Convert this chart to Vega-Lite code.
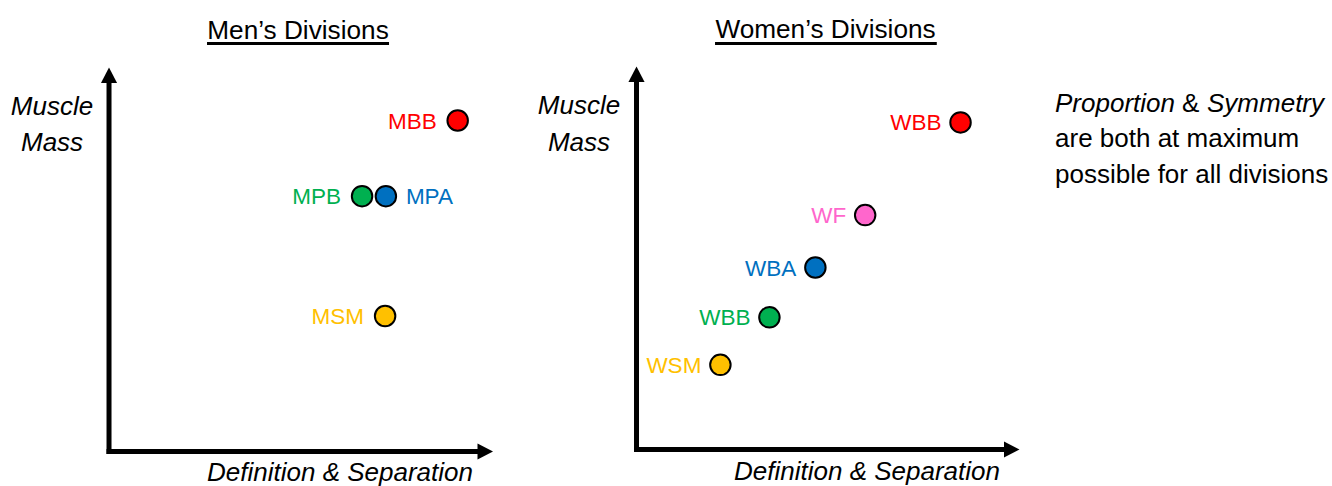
{
  "$schema": "https://vega.github.io/schema/vega-lite/v6.json",
  "width": 1332,
  "height": 486,
  "autosize": {"type": "none"},
  "padding": 0,
  "background": "white",
  "config": {"view": {"stroke": null}, "axis": {"disable": true}, "legend": {"disable": true}},
  "data": {"values": [{}]},
  "datasets": {
    "men": [
      {"division": "MBB", "class": "BB", "definition": 9.08, "mass": 8.62, "side": "left"},
      {"division": "MPB", "class": "B", "definition": 6.59, "mass": 6.65, "side": "left"},
      {"division": "MPA", "class": "A", "definition": 7.21, "mass": 6.65, "side": "right"},
      {"division": "MSM", "class": "SM", "definition": 7.19, "mass": 3.53, "side": "left"}
    ],
    "women": [
      {"division": "WBB", "class": "BB", "definition": 8.46, "mass": 8.54, "side": "left"},
      {"division": "WF", "class": "F", "definition": 5.97, "mass": 6.12, "side": "left"},
      {"division": "WBA", "class": "A", "definition": 4.67, "mass": 4.75, "side": "left"},
      {"division": "WBB", "class": "B", "definition": 3.47, "mass": 3.45, "side": "left"},
      {"division": "WSM", "class": "SM", "definition": 2.19, "mass": 2.21, "side": "left"}
    ]
  },
  "resolve": {"scale": {"x": "independent", "y": "independent"}},
  "layer": [
    {
      "layer": [
        {"mark": {"type": "rule", "strokeWidth": 5, "strokeCap": "square", "color": "black"},
         "encoding": {"x": {"datum": 0, "type": "quantitative", "scale": {"domain": [-2.839, 31.849], "nice": false, "zero": false}},
                      "y": {"datum": 0, "type": "quantitative", "scale": {"domain": [-0.898, 11.758], "nice": false, "zero": false}},
                      "y2": {"datum": 9.6}}},
        {"mark": {"type": "rule", "strokeWidth": 5, "strokeCap": "square", "color": "black"},
         "encoding": {"x": {"datum": 0, "type": "quantitative", "scale": {"domain": [-2.839, 31.849], "nice": false, "zero": false}},
                      "x2": {"datum": 9.6},
                      "y": {"datum": 0, "type": "quantitative", "scale": {"domain": [-0.898, 11.758], "nice": false, "zero": false}}}},
        {"mark": {"type": "point", "shape": "M0,0L0.52,1L-0.52,1Z", "size": 961, "filled": true, "color": "black", "opacity": 1, "strokeWidth": 0},
         "encoding": {"x": {"datum": 0, "type": "quantitative", "scale": {"domain": [-2.839, 31.849], "nice": false, "zero": false}},
                      "y": {"datum": 10, "type": "quantitative", "scale": {"domain": [-0.898, 11.758], "nice": false, "zero": false}}}},
        {"mark": {"type": "point", "shape": "M0,0L-1,-0.52L-1,0.52Z", "size": 961, "filled": true, "color": "black", "opacity": 1, "strokeWidth": 0},
         "encoding": {"x": {"datum": 10, "type": "quantitative", "scale": {"domain": [-2.839, 31.849], "nice": false, "zero": false}},
                      "y": {"datum": 0, "type": "quantitative", "scale": {"domain": [-0.898, 11.758], "nice": false, "zero": false}}}},
        {"mark": {"type": "text", "font": "Liberation Sans, Arial, sans-serif", "fontSize": 26.2, "align": "center", "baseline": "alphabetic", "color": "black"},
         "encoding": {"x": {"datum": 4.922, "type": "quantitative", "scale": {"domain": [-2.839, 31.849], "nice": false, "zero": false}},
                      "y": {"datum": 10.742, "type": "quantitative", "scale": {"domain": [-0.898, 11.758], "nice": false, "zero": false}},
                      "text": {"value": "Men’s Divisions"}}},
        {"mark": {"type": "rule", "strokeWidth": 3, "color": "black"},
         "encoding": {"x": {"datum": 2.552, "type": "quantitative", "scale": {"domain": [-2.839, 31.849], "nice": false, "zero": false}},
                      "x2": {"datum": 7.292},
                      "y": {"datum": 10.625, "type": "quantitative", "scale": {"domain": [-0.898, 11.758], "nice": false, "zero": false}}}},
        {"mark": {"type": "text", "font": "Liberation Sans, Arial, sans-serif", "fontSize": 26, "fontStyle": "italic", "align": "center", "baseline": "alphabetic", "color": "black"},
         "encoding": {"x": {"datum": -1.484, "type": "quantitative", "scale": {"domain": [-2.839, 31.849], "nice": false, "zero": false}},
                      "y": {"datum": 8.763, "type": "quantitative", "scale": {"domain": [-0.898, 11.758], "nice": false, "zero": false}},
                      "text": {"value": "Muscle"}}},
        {"mark": {"type": "text", "font": "Liberation Sans, Arial, sans-serif", "fontSize": 26, "fontStyle": "italic", "align": "center", "baseline": "alphabetic", "color": "black"},
         "encoding": {"x": {"datum": -1.484, "type": "quantitative", "scale": {"domain": [-2.839, 31.849], "nice": false, "zero": false}},
                      "y": {"datum": 7.826, "type": "quantitative", "scale": {"domain": [-0.898, 11.758], "nice": false, "zero": false}},
                      "text": {"value": "Mass"}}},
        {"mark": {"type": "text", "font": "Liberation Sans, Arial, sans-serif", "fontSize": 26, "fontStyle": "italic", "align": "right", "baseline": "alphabetic", "color": "black"},
         "encoding": {"x": {"datum": 9.479, "type": "quantitative", "scale": {"domain": [-2.839, 31.849], "nice": false, "zero": false}},
                      "y": {"datum": -0.76, "type": "quantitative", "scale": {"domain": [-0.898, 11.758], "nice": false, "zero": false}},
                      "text": {"value": "Definition & Separation"}}},
        {"data": {"name": "men"},
         "mark": {"type": "circle", "size": 420, "stroke": "black", "strokeWidth": 2, "opacity": 1},
         "encoding": {"x": {"field": "definition", "type": "quantitative", "scale": {"domain": [-2.839, 31.849], "nice": false, "zero": false}},
                      "y": {"field": "mass", "type": "quantitative", "scale": {"domain": [-0.898, 11.758], "nice": false, "zero": false}},
                      "fill": {"field": "class", "type": "nominal", "scale": {"domain": ["BB", "B", "A", "SM", "F"], "range": ["#FF0000", "#00B050", "#0070C0", "#FFC000", "#FF66CC"]}}}},
        {"data": {"name": "men"},
         "transform": [{"filter": "datum.side === 'left'"}],
         "mark": {"type": "text", "font": "Liberation Sans, Arial, sans-serif", "fontSize": 22.5, "align": "right", "baseline": "middle", "dx": -21, "dy": 1},
         "encoding": {"x": {"field": "definition", "type": "quantitative", "scale": {"domain": [-2.839, 31.849], "nice": false, "zero": false}},
                      "y": {"field": "mass", "type": "quantitative", "scale": {"domain": [-0.898, 11.758], "nice": false, "zero": false}},
                      "text": {"field": "division"},
                      "color": {"field": "class", "type": "nominal", "scale": {"domain": ["BB", "B", "A", "SM", "F"], "range": ["#FF0000", "#00B050", "#0070C0", "#FFC000", "#FF66CC"]}}}},
        {"data": {"name": "men"},
         "transform": [{"filter": "datum.side === 'right'"}],
         "mark": {"type": "text", "font": "Liberation Sans, Arial, sans-serif", "fontSize": 22.5, "align": "left", "baseline": "middle", "dx": 20, "dy": 1},
         "encoding": {"x": {"field": "definition", "type": "quantitative", "scale": {"domain": [-2.839, 31.849], "nice": false, "zero": false}},
                      "y": {"field": "mass", "type": "quantitative", "scale": {"domain": [-0.898, 11.758], "nice": false, "zero": false}},
                      "text": {"field": "division"},
                      "color": {"field": "class", "type": "nominal", "scale": {"domain": ["BB", "B", "A", "SM", "F"], "range": ["#FF0000", "#00B050", "#0070C0", "#FFC000", "#FF66CC"]}}}}
      ]
    },
    {
      "layer": [
        {"mark": {"type": "rule", "strokeWidth": 5, "strokeCap": "square", "color": "black"},
         "encoding": {"x": {"datum": 0, "type": "quantitative", "scale": {"domain": [-16.619, 18.159], "nice": false, "zero": false}},
                      "y": {"datum": 0, "type": "quantitative", "scale": {"domain": [-0.953, 11.736], "nice": false, "zero": false}},
                      "y2": {"datum": 9.6}}},
        {"mark": {"type": "rule", "strokeWidth": 5, "strokeCap": "square", "color": "black"},
         "encoding": {"x": {"datum": 0, "type": "quantitative", "scale": {"domain": [-16.619, 18.159], "nice": false, "zero": false}},
                      "x2": {"datum": 9.6},
                      "y": {"datum": 0, "type": "quantitative", "scale": {"domain": [-0.953, 11.736], "nice": false, "zero": false}}}},
        {"mark": {"type": "point", "shape": "M0,0L0.52,1L-0.52,1Z", "size": 961, "filled": true, "color": "black", "opacity": 1, "strokeWidth": 0},
         "encoding": {"x": {"datum": 0, "type": "quantitative", "scale": {"domain": [-16.619, 18.159], "nice": false, "zero": false}},
                      "y": {"datum": 10, "type": "quantitative", "scale": {"domain": [-0.953, 11.736], "nice": false, "zero": false}}}},
        {"mark": {"type": "point", "shape": "M0,0L-1,-0.52L-1,0.52Z", "size": 961, "filled": true, "color": "black", "opacity": 1, "strokeWidth": 0},
         "encoding": {"x": {"datum": 10, "type": "quantitative", "scale": {"domain": [-16.619, 18.159], "nice": false, "zero": false}},
                      "y": {"datum": 0, "type": "quantitative", "scale": {"domain": [-0.953, 11.736], "nice": false, "zero": false}}}},
        {"mark": {"type": "text", "font": "Liberation Sans, Arial, sans-serif", "fontSize": 26.2, "align": "center", "baseline": "alphabetic", "color": "black"},
         "encoding": {"x": {"datum": 4.935, "type": "quantitative", "scale": {"domain": [-16.619, 18.159], "nice": false, "zero": false}},
                      "y": {"datum": 10.731, "type": "quantitative", "scale": {"domain": [-0.953, 11.736], "nice": false, "zero": false}},
                      "text": {"value": "Women’s Divisions"}}},
        {"mark": {"type": "rule", "strokeWidth": 3, "color": "black"},
         "encoding": {"x": {"datum": 2.05, "type": "quantitative", "scale": {"domain": [-16.619, 18.159], "nice": false, "zero": false}},
                      "x2": {"datum": 7.84},
                      "y": {"datum": 10.6, "type": "quantitative", "scale": {"domain": [-0.953, 11.736], "nice": false, "zero": false}}}},
        {"mark": {"type": "text", "font": "Liberation Sans, Arial, sans-serif", "fontSize": 26, "fontStyle": "italic", "align": "center", "baseline": "alphabetic", "color": "black"},
         "encoding": {"x": {"datum": -1.501, "type": "quantitative", "scale": {"domain": [-16.619, 18.159], "nice": false, "zero": false}},
                      "y": {"datum": 8.76, "type": "quantitative", "scale": {"domain": [-0.953, 11.736], "nice": false, "zero": false}},
                      "text": {"value": "Muscle"}}},
        {"mark": {"type": "text", "font": "Liberation Sans, Arial, sans-serif", "fontSize": 26, "fontStyle": "italic", "align": "center", "baseline": "alphabetic", "color": "black"},
         "encoding": {"x": {"datum": -1.501, "type": "quantitative", "scale": {"domain": [-16.619, 18.159], "nice": false, "zero": false}},
                      "y": {"datum": 7.794, "type": "quantitative", "scale": {"domain": [-0.953, 11.736], "nice": false, "zero": false}},
                      "text": {"value": "Mass"}}},
        {"mark": {"type": "text", "font": "Liberation Sans, Arial, sans-serif", "fontSize": 26, "fontStyle": "italic", "align": "right", "baseline": "alphabetic", "color": "black"},
         "encoding": {"x": {"datum": 9.491, "type": "quantitative", "scale": {"domain": [-16.619, 18.159], "nice": false, "zero": false}},
                      "y": {"datum": -0.8, "type": "quantitative", "scale": {"domain": [-0.953, 11.736], "nice": false, "zero": false}},
                      "text": {"value": "Definition & Separation"}}},
        {"mark": {"type": "text", "font": "Liberation Sans, Arial, sans-serif", "fontSize": 26, "fontStyle": "italic", "align": "left", "baseline": "alphabetic", "color": "black"},
         "encoding": {"x": {"datum": 10.927, "type": "quantitative", "scale": {"domain": [-16.619, 18.159], "nice": false, "zero": false}},
                      "y": {"datum": 8.812, "type": "quantitative", "scale": {"domain": [-0.953, 11.736], "nice": false, "zero": false}},
                      "text": {"value": "Proportion"}}},
        {"mark": {"type": "text", "font": "Liberation Sans, Arial, sans-serif", "fontSize": 26, "align": "left", "baseline": "alphabetic", "color": "black", "dx": 127},
         "encoding": {"x": {"datum": 10.927, "type": "quantitative", "scale": {"domain": [-16.619, 18.159], "nice": false, "zero": false}},
                      "y": {"datum": 8.812, "type": "quantitative", "scale": {"domain": [-0.953, 11.736], "nice": false, "zero": false}},
                      "text": {"value": "&"}}},
        {"mark": {"type": "text", "font": "Liberation Sans, Arial, sans-serif", "fontSize": 26, "fontStyle": "italic", "align": "left", "baseline": "alphabetic", "color": "black", "dx": 152},
         "encoding": {"x": {"datum": 10.927, "type": "quantitative", "scale": {"domain": [-16.619, 18.159], "nice": false, "zero": false}},
                      "y": {"datum": 8.812, "type": "quantitative", "scale": {"domain": [-0.953, 11.736], "nice": false, "zero": false}},
                      "text": {"value": "Symmetry"}}},
        {"mark": {"type": "text", "font": "Liberation Sans, Arial, sans-serif", "fontSize": 26, "align": "left", "baseline": "alphabetic", "color": "black"},
         "encoding": {"x": {"datum": 10.927, "type": "quantitative", "scale": {"domain": [-16.619, 18.159], "nice": false, "zero": false}},
                      "y": {"datum": 7.885, "type": "quantitative", "scale": {"domain": [-0.953, 11.736], "nice": false, "zero": false}},
                      "text": {"value": "are both at maximum"}}},
        {"mark": {"type": "text", "font": "Liberation Sans, Arial, sans-serif", "fontSize": 26, "align": "left", "baseline": "alphabetic", "color": "black"},
         "encoding": {"x": {"datum": 10.927, "type": "quantitative", "scale": {"domain": [-16.619, 18.159], "nice": false, "zero": false}},
                      "y": {"datum": 6.958, "type": "quantitative", "scale": {"domain": [-0.953, 11.736], "nice": false, "zero": false}},
                      "text": {"value": "possible for all divisions"}}},
        {"data": {"name": "women"},
         "mark": {"type": "circle", "size": 420, "stroke": "black", "strokeWidth": 2, "opacity": 1},
         "encoding": {"x": {"field": "definition", "type": "quantitative", "scale": {"domain": [-16.619, 18.159], "nice": false, "zero": false}},
                      "y": {"field": "mass", "type": "quantitative", "scale": {"domain": [-0.953, 11.736], "nice": false, "zero": false}},
                      "fill": {"field": "class", "type": "nominal", "scale": {"domain": ["BB", "B", "A", "SM", "F"], "range": ["#FF0000", "#00B050", "#0070C0", "#FFC000", "#FF66CC"]}}}},
        {"data": {"name": "women"},
         "mark": {"type": "text", "font": "Liberation Sans, Arial, sans-serif", "fontSize": 22.5, "align": "right", "baseline": "middle", "dx": -19, "dy": 1},
         "encoding": {"x": {"field": "definition", "type": "quantitative", "scale": {"domain": [-16.619, 18.159], "nice": false, "zero": false}},
                      "y": {"field": "mass", "type": "quantitative", "scale": {"domain": [-0.953, 11.736], "nice": false, "zero": false}},
                      "text": {"field": "division"},
                      "color": {"field": "class", "type": "nominal", "scale": {"domain": ["BB", "B", "A", "SM", "F"], "range": ["#FF0000", "#00B050", "#0070C0", "#FFC000", "#FF66CC"]}}}}
      ]
    }
  ]
}
